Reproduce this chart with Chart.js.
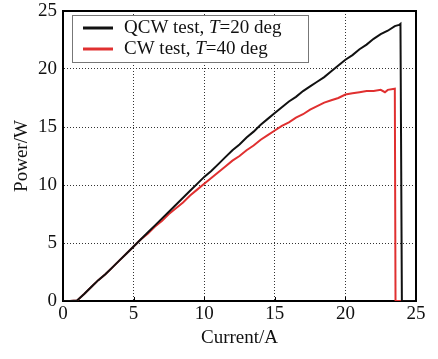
<!DOCTYPE html>
<html>
<head>
<meta charset="utf-8">
<script src="https://cdn.jsdelivr.net/npm/chart.js@4/dist/chart.umd.min.js"></script>
<style>
  html, body { margin: 0; padding: 0; background: #fff; }
  #wrap { width: 438px; height: 359px; }
</style>
</head>
<body>
<div id="wrap"><canvas id="powerChart"></canvas></div>
<script>
// QCW test, T = 20 deg
const qcwCurrent = [0, 0.5, 1.0, 1.5, 2, 2.5, 3, 3.5, 4, 4.5, 5, 5.5, 6, 6.5, 7, 7.5, 8, 8.5, 9, 9.5,
    10, 10.5, 11, 11.5, 12, 12.5, 13, 13.5, 14, 14.5, 15, 15.5, 16, 16.5, 17, 17.5, 18, 18.5, 19, 19.5,
    20, 20.5, 21, 21.5, 22, 22.5, 23, 23.5, 23.8, 23.9, 24.0, 24.9];
const qcwPower = [0, 0, 0.05, 0.6, 1.2, 1.8, 2.3, 2.9, 3.5, 4.1, 4.7, 5.3, 5.9, 6.5, 7.1, 7.7, 8.3, 8.9, 9.5, 10.1,
    10.7, 11.2, 11.8, 12.4, 13.0, 13.5, 14.1, 14.6, 15.2, 15.7, 16.2, 16.7, 17.2, 17.6, 18.1, 18.5, 18.9, 19.3, 19.8, 20.3,
    20.8, 21.2, 21.7, 22.1, 22.6, 23.0, 23.3, 23.7, 23.8, 23.9, 0, 0];

// CW test, T = 40 deg
const cwCurrent = [0, 0.5, 1.0, 1.5, 2, 2.5, 3, 3.5, 4, 4.5, 5, 5.5, 6, 6.5, 7, 7.5, 8, 8.5, 9, 9.5,
    10, 10.5, 11, 11.5, 12, 12.5, 13, 13.5, 14, 14.5, 15, 15.5, 16, 16.5, 17, 17.5, 18, 18.5, 19, 19.5,
    20, 20.5, 21, 21.5, 22, 22.5, 22.8, 23, 23.5, 23.55, 24.3];
const cwPower = [0, 0, 0.05, 0.6, 1.2, 1.8, 2.3, 2.9, 3.5, 4.1, 4.7, 5.3, 5.8, 6.4, 6.9, 7.5, 8.0, 8.5, 9.1, 9.6,
    10.1, 10.6, 11.1, 11.6, 12.1, 12.5, 13.0, 13.4, 13.9, 14.3, 14.7, 15.1, 15.4, 15.8, 16.1, 16.5, 16.8, 17.1, 17.3, 17.5,
    17.8, 17.9, 18.0, 18.1, 18.1, 18.2, 18.0, 18.2, 18.3, 0, 0];

const xTicks = [0, 5, 10, 15, 20, 25];
const yTicks = [0, 5, 10, 15, 20, 25];

const legendItems = [
    { color: '#111111', before: 'QCW test, ', italic: 'T', after: '=20 deg' },
    { color: '#e03030', before: 'CW test, ', italic: 'T', after: '=40 deg' }
];

const serif = "'Liberation Serif', 'DejaVu Serif', serif";

function toPoints(xs, ys) {
    return xs.map((x, i) => ({ x: x, y: ys[i] }));
}

// Frame round the plot plus small inward ticks on the bottom axis (drawn under the curves)
const frame = {
    id: 'frame',
    beforeDatasetsDraw(chart) {
        const { ctx, chartArea: a, scales } = chart;
        ctx.save();
        ctx.strokeStyle = '#000';
        ctx.lineWidth = 2;
        ctx.strokeRect(a.left, a.top, a.right - a.left, a.bottom - a.top);
        ctx.lineWidth = 1;
        xTicks.forEach(v => {
            const px = Math.round(scales.x.getPixelForValue(v)) + 0.5;
            ctx.beginPath();
            ctx.moveTo(px, a.bottom);
            ctx.lineTo(px, a.bottom - 4);
            ctx.stroke();
        });
        ctx.restore();
    }
};

// Boxed legend with an italic T in each label
const boxLegend = {
    id: 'boxLegend',
    afterDraw(chart) {
        const ctx = chart.ctx;
        const left = 72, top = 15, width = 236, height = 47;
        ctx.save();
        ctx.fillStyle = '#fff';
        ctx.fillRect(left, top, width, height);
        ctx.strokeStyle = '#777';
        ctx.lineWidth = 1;
        ctx.strokeRect(left + 0.5, top + 0.5, width, height);
        ctx.textBaseline = 'middle';
        legendItems.forEach((item, i) => {
            const y = top + 13 + i * 21;
            ctx.strokeStyle = item.color;
            ctx.lineWidth = 3;
            ctx.beginPath();
            ctx.moveTo(83, y);
            ctx.lineTo(113, y);
            ctx.stroke();
            ctx.fillStyle = '#111';
            let x = 124;
            ctx.font = '19px ' + serif;
            ctx.fillText(item.before, x, y);
            x += ctx.measureText(item.before).width;
            ctx.font = 'italic 19px ' + serif;
            ctx.fillText(item.italic, x, y);
            x += ctx.measureText(item.italic).width;
            ctx.font = '19px ' + serif;
            ctx.fillText(item.after, x, y);
        });
        ctx.restore();
    }
};

// Fixed scale boxes so the plot area sits at left 63, right 416, top 11, bottom 301
function fixX(scale) {
    scale.height = 58;
    scale.paddingLeft = 0;
    scale.paddingRight = 0;
}
function fixY(scale) {
    scale.width = 63;
    scale.paddingTop = 0;
    scale.paddingBottom = 0;
}

new Chart(document.getElementById('powerChart'), {
    type: 'line',
    data: {
        datasets: [{
            label: 'QCW test, T=20 deg',
            data: toPoints(qcwCurrent, qcwPower),
            borderColor: '#111111',
            borderWidth: 2
        }, {
            label: 'CW test, T=40 deg',
            data: toPoints(cwCurrent, cwPower),
            borderColor: '#e03030',
            borderWidth: 2
        }]
    },
    options: {
        responsive: true,
        maintainAspectRatio: false,
        animation: false,
        layout: { padding: { top: 11, right: 22, left: 0, bottom: 0 } },
        elements: { point: { radius: 0 }, line: { tension: 0 } },
        plugins: { legend: { display: false }, tooltip: { enabled: false } },
        scales: {
            x: {
                type: 'linear',
                min: 0,
                max: 25,
                afterFit: fixX,
                afterBuildTicks(scale) { scale.ticks = xTicks.map(v => ({ value: v })); },
                grid: { color: '#333', lineWidth: 1, drawTicks: false },
                border: { color: '#000', width: 2, dash: [1, 2] },
                ticks: { color: '#111', padding: 4, font: { family: serif, size: 19, lineHeight: 1 } },
                title: {
                    display: true,
                    text: 'Current/A',
                    color: '#111',
                    font: { family: serif, size: 19 },
                    padding: { top: 0, bottom: 10 }
                }
            },
            y: {
                min: 0,
                max: 25,
                afterFit: fixY,
                afterBuildTicks(scale) { scale.ticks = yTicks.map(v => ({ value: v })); },
                grid: { color: '#333', lineWidth: 1, drawTicks: false },
                border: { color: '#000', width: 2, dash: [1, 2] },
                ticks: { color: '#111', padding: 6, font: { family: serif, size: 19, lineHeight: 1 } },
                title: {
                    display: true,
                    text: 'Power/W',
                    color: '#111',
                    font: { family: serif, size: 19 },
                    padding: { top: 11, bottom: 0 }
                }
            }
        }
    },
    plugins: [frame, boxLegend]
});
</script>
</body>
</html>
